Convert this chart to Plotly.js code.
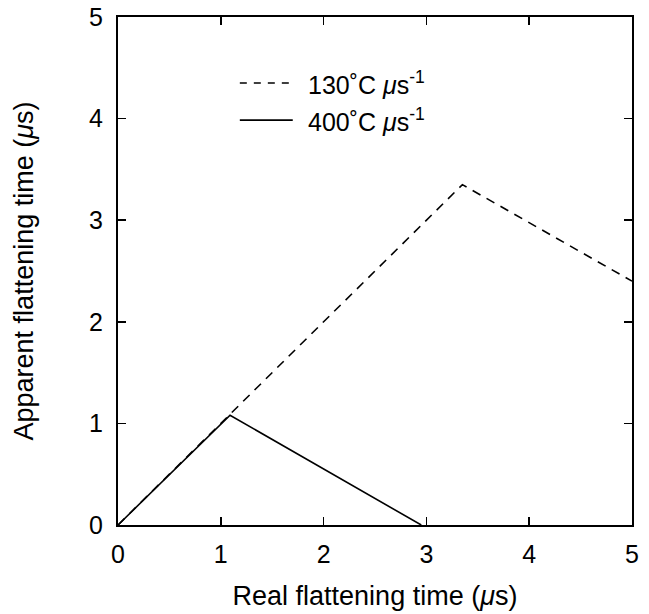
<!DOCTYPE html>
<html>
<head>
<meta charset="utf-8">
<script src="https://cdn.plot.ly/plotly-3.0.1.min.js"></script>
<style>html,body{margin:0;padding:0;background:#fff;}#chart{width:649px;height:614px;}</style>
</head>
<body>
<div id="chart"></div>
<script>
// Data
const slowX = [0, 3.35, 5];
const slowY = [0, 3.35, 2.4];
const fastX = [0, 1.09, 2.95];
const fastY = [0, 1.08, 0];
const seriesNames = ['130˚C <i>μ</i>s<sup>-1</sup>', '400˚C <i>μ</i>s<sup>-1</sup>'];
const tickVals = [0, 1, 2, 3, 4, 5];
const tickText = ['0', '1', '2', '3', '4', '5'];

const FONT = 'Liberation Sans, Arial, Helvetica, sans-serif';
const SLOW_DASH = '9px,7px';

const traces = [
  {x: slowX, y: slowY, mode: 'lines', name: seriesNames[0], showlegend: false,
   line: {color: '#000', width: 1.6, dash: SLOW_DASH}},
  {x: fastX, y: fastY, mode: 'lines', name: seriesNames[1], showlegend: false,
   line: {color: '#000', width: 1.6}}
];

const axisCommon = {
  range: [0, 5], tickvals: tickVals, ticktext: tickText,
  ticks: 'inside', ticklen: 8, tickwidth: 1.5, tickcolor: '#000',
  showline: true, linecolor: '#000', linewidth: 2, mirror: 'ticks',
  showgrid: false, zeroline: false, automargin: false,
  tickfont: {family: FONT, size: 25, color: '#000'}
};

// Legend drawn as key lines + text (paper coordinates)
const legendRows = [
  {y: 0.870, dash: 'dash', text: seriesNames[0]},
  {y: 0.797, dash: 'solid', text: seriesNames[1]}
];
const shapes = legendRows.map(r => ({
  type: 'line', xref: 'paper', yref: 'paper', x0: 0.237, x1: 0.340, y0: r.y, y1: r.y,
  line: {color: '#000', width: 1.6, dash: r.dash === 'dash' ? '7px,7px' : 'solid'}
}));
const annotations = legendRows.map(r => ({
  xref: 'paper', yref: 'paper', x: 0.366, y: r.y, xanchor: 'left', yanchor: 'middle',
  text: r.text, showarrow: false, font: {family: FONT, size: 25, color: '#000'}
}));

const layout = {
  width: 649, height: 614,
  margin: {l: 118, r: 17, t: 17, b: 89},
  paper_bgcolor: '#fff', plot_bgcolor: '#fff',
  font: {family: FONT, color: '#000'},
  showlegend: false,
  shapes: shapes,
  annotations: annotations,
  xaxis: Object.assign({}, axisCommon, {
    ticklabelstandoff: 6,
    title: {text: 'Real flattening time (<i>μ</i>s)', font: {family: FONT, size: 27, color: '#000'}, standoff: 19}
  }),
  yaxis: Object.assign({}, axisCommon, {
    ticklabelstandoff: 8,
    title: {text: 'Apparent flattening time (<i>μ</i>s)', font: {family: FONT, size: 27, color: '#000'}, standoff: 48}
  })
};

Plotly.newPlot('chart', traces, layout, {displayModeBar: false, staticPlot: true});
</script>
</body>
</html>
